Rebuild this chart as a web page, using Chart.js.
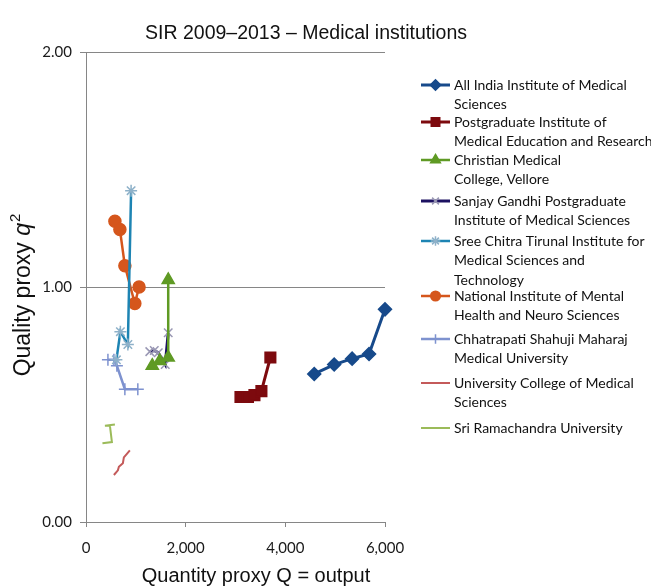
<!DOCTYPE html>
<html>
<head>
<meta charset="utf-8">
<script src="https://cdn.jsdelivr.net/npm/chart.js@4.4.0/dist/chart.umd.min.js"></script>
<style>
html, body { margin: 0; padding: 0; background: #fff; }
</style>
</head>
<body>
<canvas id="sirChart" width="651" height="587"></canvas>
<script>
// SIR 2009-2013, medical institutions: quantity Q (output) vs quality q^2
const xTicks = [0, 2000, 4000, 6000];
const yTicks = [0, 1, 2];

const aiimsQ = [4580, 4980, 5340, 5680, 6000];
const aiimsQ2 = [0.63, 0.67, 0.695, 0.715, 0.905];

const pgimerQ = [3100, 3250, 3380, 3520, 3700];
const pgimerQ2 = [0.532, 0.532, 0.54, 0.557, 0.70];

const cmcQ = [1330, 1480, 1650, 1650];
const cmcQ2 = [0.665, 0.685, 0.70, 1.03];

const sgpgiQ = [1280, 1370, 1450, 1590, 1650];
const sgpgiQ2 = [0.725, 0.73, 0.72, 0.67, 0.805];

const chitraQ = [610, 690, 840, 905];
const chitraQ2 = [0.69, 0.81, 0.755, 1.41];

const nimhansQ = [580, 680, 780, 980, 1065];
const nimhansQ2 = [1.28, 1.245, 1.09, 0.93, 1.0];

const csmmuQ = [440, 560, 620, 780, 1040];
const csmmuQ2 = [0.69, 0.69, 0.665, 0.565, 0.565];

const ucmsQ = [560, 640, 660, 740, 760, 880];
const ucmsQ2 = [0.20, 0.22, 0.235, 0.25, 0.275, 0.305];

const sriQ = [330, 520, 480, 380, 580];
const sriQ2 = [0.335, 0.34, 0.41, 0.41, 0.415];

const legendLines = [
    ['All India Institute of Medical', 'Sciences'],
    ['Postgraduate Institute of', 'Medical Education and Research'],
    ['Christian Medical', 'College, Vellore'],
    ['Sanjay Gandhi Postgraduate', 'Institute of Medical Sciences'],
    ['Sree Chitra Tirunal Institute for', 'Medical Sciences and', 'Technology'],
    ['National Institute of Mental', 'Health and Neuro Sciences'],
    ['Chhatrapati Shahuji Maharaj', 'Medical University'],
    ['University College of Medical', 'Sciences'],
    ['Sri Ramachandra University']
];

function pts(xs, ys) {
    return xs.map((x, i) => ({ x: x, y: ys[i] }));
}

function series(label, xs, ys, color, style, radius, width, markColor) {
    return {
        label: label,
        data: pts(xs, ys),
        showLine: true,
        borderColor: color,
        backgroundColor: color,
        borderWidth: width,
        pointStyle: style,
        pointRadius: radius,
        pointHoverRadius: radius,
        pointBackgroundColor: markColor || color,
        pointBorderColor: markColor || color,
        pointBorderWidth: 1.5,
        tension: 0,
        clip: false
    };
}

const datasets = [
    series(legendLines[0].join(' '), aiimsQ, aiimsQ2, '#174a8b', 'rectRot', 6.5, 3),
    series(legendLines[1].join(' '), pgimerQ, pgimerQ2, '#7d0a0e', 'rect', 7.5, 3),
    series(legendLines[2].join(' '), cmcQ, cmcQ2, '#5f9a24', 'triangle', 7, 2.5),
    series(legendLines[3].join(' '), sgpgiQ, sgpgiQ2, '#1c1161', 'crossRot', 6, 3, '#9a98b4'),
    series(legendLines[4].join(' '), chitraQ, chitraQ2, '#1d84b3', 'star', 6, 2.5, '#8eb1c9'),
    series(legendLines[5].join(' '), nimhansQ, nimhansQ2, '#d5561c', 'circle', 6, 2.5),
    series(legendLines[6].join(' '), csmmuQ, csmmuQ2, '#7e92cf', 'cross', 6, 2.5),
    series(legendLines[7].join(' '), ucmsQ, ucmsQ2, '#c45a5a', 'circle', 0, 2),
    series(legendLines[8].join(' '), sriQ, sriQ2, '#9bbb59', 'circle', 0, 2)
];

// title, axis titles and the wrapped legend drawn straight on the canvas
const sirText = {
    id: 'sirText',
    afterDraw(chart) {
        const ctx = chart.ctx;
        ctx.save();
        ctx.fillStyle = '#111';
        ctx.textBaseline = 'middle';
        ctx.textAlign = 'center';
        ctx.font = '19.5px "Liberation Sans", Arial, sans-serif';
        ctx.fillText('SIR 2009\u20132013 \u2013 Medical institutions', 306, 34);

        ctx.font = '20px "Liberation Sans", Arial, sans-serif';
        ctx.fillText('Quantity proxy Q = output', 256, 576);

        // y title: "Quality proxy q²" with italic q and raised 2
        ctx.save();
        ctx.translate(24, 295);
        ctx.rotate(-Math.PI / 2);
        ctx.textAlign = 'left';
        const fMain = '23px "Liberation Sans", Arial, sans-serif';
        const fItal = 'italic 23px "Liberation Sans", Arial, sans-serif';
        const fSup = '15px "Liberation Sans", Arial, sans-serif';
        ctx.font = fMain;
        const w1 = ctx.measureText('Quality proxy ').width;
        ctx.font = fItal;
        const w2 = ctx.measureText('q').width;
        ctx.font = fSup;
        const w3 = ctx.measureText('2').width;
        let x0 = -(w1 + w2 + w3 + 1) / 2;
        ctx.font = fMain;
        ctx.fillText('Quality proxy ', x0, 0);
        ctx.font = fItal;
        ctx.fillText('q', x0 + w1, 0);
        ctx.font = fSup;
        ctx.fillText('2', x0 + w1 + w2 + 1, -8);
        ctx.restore();

        const tops = [85, 122, 160, 201, 241, 296, 339, 383, 428];
        ctx.textAlign = 'left';
        ctx.font = '14px Lato, sans-serif';
        chart.data.datasets.forEach((ds, i) => {
            const y = tops[i];
            ctx.strokeStyle = ds.borderColor;
            ctx.lineWidth = ds.borderWidth;
            ctx.beginPath();
            ctx.moveTo(421, y);
            ctx.lineTo(450, y);
            ctx.stroke();
            if (ds.pointRadius > 0) {
                ctx.fillStyle = ds.pointBackgroundColor;
                ctx.strokeStyle = ds.pointBorderColor;
                ctx.lineWidth = 1.5;
                Chart.helpers.drawPoint(ctx, {
                    pointStyle: ds.pointStyle,
                    radius: ds.pointRadius * 0.8,
                    rotation: 0,
                    borderWidth: 1.5
                }, 435.5, y);
            }
            ctx.fillStyle = '#111';
            legendLines[i].forEach((t, k) => {
                ctx.fillText(t, 454, y + k * 19.8);
            });
        });
        ctx.restore();
    }
};

new Chart(document.getElementById('sirChart'), {
    type: 'scatter',
    data: { datasets: datasets },
    options: {
        responsive: false,
        animation: false,
        layout: { padding: { top: 52, right: 266, bottom: 0, left: 0 } },
        plugins: {
            legend: { display: false },
            title: { display: false },
            tooltip: { enabled: false }
        },
        scales: {
            x: {
                type: 'linear',
                min: 0,
                max: 6000,
                afterBuildTicks: (s) => { s.ticks = xTicks.map(v => ({ value: v })); },
                afterFit: (s) => { s.height = 65; },
                grid: { drawOnChartArea: false, drawTicks: true, tickLength: 5, color: '#868686' },
                border: { color: '#868686', width: 1 },
                ticks: {
                    padding: 12,
                    maxRotation: 0,
                    autoSkip: false,
                    color: '#1a1a1a',
                    font: { family: 'Lato', size: 15 },
                    callback: (v) => v.toLocaleString('en-US')
                }
            },
            y: {
                type: 'linear',
                min: 0,
                max: 2,
                afterBuildTicks: (s) => { s.ticks = yTicks.map(v => ({ value: v })); },
                afterFit: (s) => { s.width = 86; },
                grid: { color: '#868686', lineWidth: 1, drawTicks: true, tickLength: 6 },
                border: { color: '#868686', width: 1 },
                ticks: {
                    padding: 8,
                    autoSkip: false,
                    color: '#1a1a1a',
                    font: { family: 'Lato', size: 15 },
                    callback: (v) => Number(v).toFixed(2)
                }
            }
        }
    },
    plugins: [sirText]
});
</script>
</body>
</html>
